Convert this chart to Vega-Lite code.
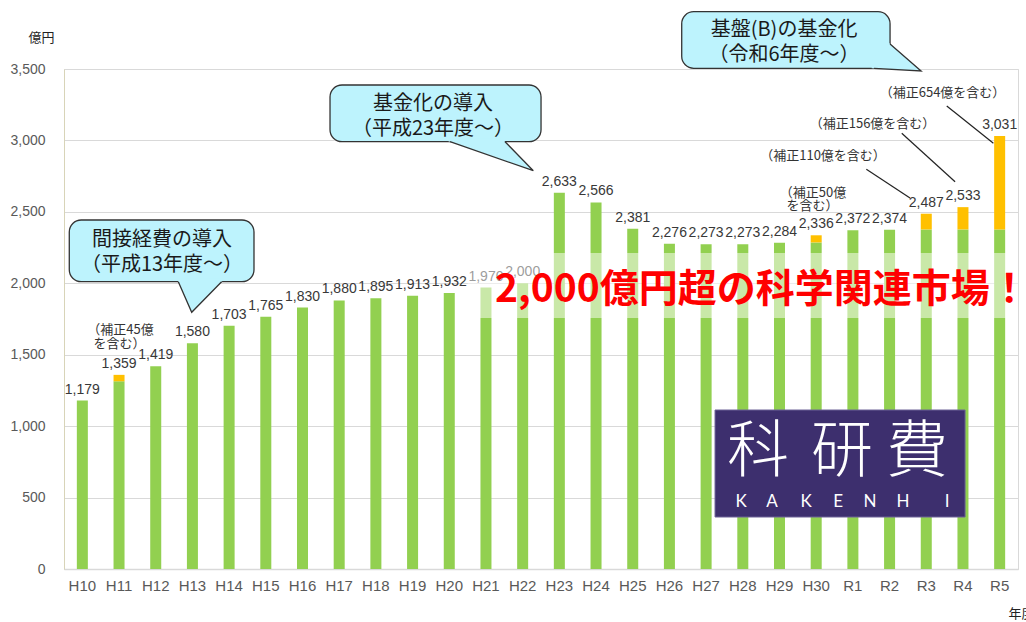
{
  "$schema": "https://vega.github.io/schema/vega-lite/v6.json",
  "width": 954,
  "height": 500,
  "autosize": "none",
  "padding": {"left": 64, "top": 69, "right": 8, "bottom": 53},
  "background": "white",
  "config": {
    "view": {"stroke": "#d9d9d9"},
    "font": "Liberation Sans"
  },
  "datasets": {
    "budget": [
      {"year": "H10", "base": 1179, "total": 1179},
      {"year": "H11", "base": 1314, "total": 1359},
      {"year": "H12", "base": 1419, "total": 1419},
      {"year": "H13", "base": 1580, "total": 1580},
      {"year": "H14", "base": 1703, "total": 1703},
      {"year": "H15", "base": 1765, "total": 1765},
      {"year": "H16", "base": 1830, "total": 1830},
      {"year": "H17", "base": 1880, "total": 1880},
      {"year": "H18", "base": 1895, "total": 1895},
      {"year": "H19", "base": 1913, "total": 1913},
      {"year": "H20", "base": 1932, "total": 1932},
      {"year": "H21", "base": 1970, "total": 1970},
      {"year": "H22", "base": 2000, "total": 2000},
      {"year": "H23", "base": 2633, "total": 2633},
      {"year": "H24", "base": 2566, "total": 2566},
      {"year": "H25", "base": 2381, "total": 2381},
      {"year": "H26", "base": 2276, "total": 2276},
      {"year": "H27", "base": 2273, "total": 2273},
      {"year": "H28", "base": 2273, "total": 2273},
      {"year": "H29", "base": 2284, "total": 2284},
      {"year": "H30", "base": 2286, "total": 2336},
      {"year": "R1", "base": 2372, "total": 2372},
      {"year": "R2", "base": 2374, "total": 2374},
      {"year": "R3", "base": 2377, "total": 2487},
      {"year": "R4", "base": 2377, "total": 2533},
      {"year": "R5", "base": 2377, "total": 3031}
    ],
    "band": [{"x": 11, "x2": 26, "y": 1757, "y2": 2212}],
    "headline": [{"label": "2,000億円超の科学関連市場！", "x": 11.747, "y": 1953}],
    "logo": [{"x": 17.743, "x2": 24.557, "y": 364, "y2": 1113}],
    "logoKanji": [
      {"t": "科", "x": 18.915, "y": 815},
      {"t": "研", "x": 21.205, "y": 815},
      {"t": "費", "x": 23.249, "y": 815}
    ],
    "logoLatin": [
      {"t": "K", "x": 18.452, "y": 471},
      {"t": "A", "x": 19.297, "y": 471},
      {"t": "K", "x": 20.223, "y": 471},
      {"t": "E", "x": 21.096, "y": 471},
      {"t": "N", "x": 21.968, "y": 471},
      {"t": "H", "x": 22.867, "y": 471},
      {"t": "I", "x": 24.067, "y": 471}
    ],
    "leaders": [
      {"x": 21.867, "y": 2798, "x2": 23.057, "y2": 2597},
      {"x": 22.832, "y": 3050, "x2": 24.285, "y2": 2711},
      {"x": 24.059, "y": 3241, "x2": 25.329, "y2": 2980}
    ],
    "notes": [
      {"t": "（補正45億", "x": 1.540, "y": 1673},
      {"t": "を含む）", "x": 1.513, "y": 1575},
      {"t": "（補正50億", "x": 20.414, "y": 2634},
      {"t": "を含む）", "x": 20.400, "y": 2541},
      {"t": "（補正110億を含む）", "x": 20.687, "y": 2893},
      {"t": "（補正156億を含む）", "x": 22.036, "y": 3115},
      {"t": "（補正654億を含む）", "x": 23.943, "y": 3332}
    ],
    "callouts": [
      {"id": "c1", "x": 0.144, "x2": 5.178, "y": 2011.1, "y2": 2443},
      {"id": "c2", "x": 7.250, "x2": 13.001, "y": 2991.1, "y2": 3388},
      {"id": "c3", "x": 16.835, "x2": 22.513, "y": 3504.9, "y2": 3901}
    ],
    "tailFill": [
      {"id": "c1", "o": 0, "x": 3.0788, "y": 2032.5},
      {"id": "c1", "o": 1, "x": 3.4805, "y": 1796.9},
      {"id": "c1", "o": 2, "x": 4.3769, "y": 2032.5},
      {"id": "c2", "o": 0, "x": 10.248, "y": 3015.6},
      {"id": "c2", "o": 1, "x": 12.791, "y": 2788.1},
      {"id": "c2", "o": 2, "x": 11.927, "y": 3015.6},
      {"id": "c3", "o": 0, "x": 22.412, "y": 3697.4},
      {"id": "c3", "o": 1, "x": 23.358, "y": 3486},
      {"id": "c3", "o": 2, "x": 22.013, "y": 3505.9},
      {"id": "c3", "o": 3, "x": 22.022, "y": 3563}
    ],
    "tailStroke": [
      {"id": "c1", "o": 0, "x": 3.1153, "y": 2011.1},
      {"id": "c1", "o": 1, "x": 3.4805, "y": 1796.9},
      {"id": "c1", "o": 2, "x": 4.2954, "y": 2011.1},
      {"id": "c2", "o": 0, "x": 10.520, "y": 2991.1},
      {"id": "c2", "o": 1, "x": 12.791, "y": 2788.1},
      {"id": "c2", "o": 2, "x": 12.020, "y": 2991.1},
      {"id": "c3", "o": 0, "x": 22.513, "y": 3675},
      {"id": "c3", "o": 1, "x": 23.358, "y": 3486},
      {"id": "c3", "o": 2, "x": 22.077, "y": 3504.9}
    ],
    "calloutText": [
      {"t": "間接経費の導入", "x": 2.671, "y": 2303},
      {"t": "（平成13年度～）", "x": 2.671, "y": 2128},
      {"t": "基金化の導入", "x": 10.057, "y": 3255},
      {"t": "（平成23年度～）", "x": 10.057, "y": 3078},
      {"t": "基盤(B)の基金化", "x": 19.624, "y": 3773},
      {"t": "（令和6年度～）", "x": 19.624, "y": 3598}
    ]
  },
  "resolve": {"scale": {"x": "independent"}},
  "layer": [
    {
      "data": {"name": "budget"},
      "mark": {"type": "bar", "color": "#92D050"},
      "encoding": {
        "x": {
          "field": "year", "type": "nominal", "sort": null,
          "scale": {"paddingInner": 0.7, "paddingOuter": 0.35},
          "axis": {
            "orient": "bottom",
            "title": "年度", "labelAngle": 0, "ticks": false, "labelPadding": 9,
            "labelFont": "Liberation Sans", "labelFontSize": 15, "labelColor": "#595959",
            "domainColor": "#d9d9d9", "domainWidth": 1.5,
            "titleFont": "Noto Sans CJK JP", "titleFontSize": 13, "titleFontWeight": "normal",
            "titleColor": "#222222", "titleX": 944, "titleY": 44,
            "titleAlign": "left", "titleBaseline": "middle"
          }
        },
        "y": {
          "field": "base", "type": "quantitative",
          "scale": {"domain": [0, 3500], "nice": false},
          "axis": {
            "orient": "left",
            "values": [0, 500, 1000, 1500, 2000, 2500, 3000, 3500],
            "labelExpr": "format(datum.value, ',.0f')",
            "grid": true, "gridColor": "#d9d9d9",
            "domainColor": "#d8d4b8", "ticks": false, "labelPadding": 19,
            "labelFont": "Liberation Sans", "labelFontSize": 14, "labelColor": "#595959",
            "title": "億円", "titleAngle": 0, "titleX": -23, "titleY": -32,
            "titleFont": "Noto Sans CJK JP", "titleFontSize": 13, "titleFontWeight": "normal",
            "titleColor": "#222222", "titleAlign": "center", "titleBaseline": "middle"
          }
        }
      }
    },
    {
      "data": {"name": "budget"},
      "mark": {"type": "bar", "color": "#FFC000"},
      "encoding": {
        "x": {"field": "year", "type": "nominal", "sort": null, "scale": {"paddingInner": 0.7, "paddingOuter": 0.35}, "axis": null},
        "y": {"field": "base", "type": "quantitative", "scale": {"domain": [0, 3500], "nice": false}},
        "y2": {"field": "total"}
      }
    },
    {
      "data": {"name": "budget"},
      "mark": {"type": "text", "baseline": "bottom", "dy": -4, "font": "Liberation Sans", "fontSize": 14, "color": "#383838"},
      "encoding": {
        "x": {"field": "year", "type": "nominal", "sort": null, "scale": {"paddingInner": 0.7, "paddingOuter": 0.35}, "axis": null},
        "y": {"field": "total", "type": "quantitative", "scale": {"domain": [0, 3500], "nice": false}},
        "text": {"field": "total", "type": "quantitative", "format": ","}
      }
    },
    {
      "data": {"name": "band"},
      "mark": {"type": "rect", "fill": "white", "opacity": 0.5},
      "encoding": {
        "x": {"field": "x", "type": "quantitative", "scale": {"domain": [0, 26], "nice": false, "zero": false}, "axis": null},
        "x2": {"field": "x2"},
        "y": {"field": "y", "type": "quantitative", "scale": {"domain": [0, 3500], "nice": false}},
        "y2": {"field": "y2"}
      }
    },
    {
      "data": {"name": "headline"},
      "mark": {"type": "text", "align": "left", "baseline": "middle", "font": "Noto Sans CJK JP", "fontSize": 39, "fontWeight": "bold", "color": "#FF0000"},
      "encoding": {
        "x": {"field": "x", "type": "quantitative", "scale": {"domain": [0, 26], "nice": false, "zero": false}, "axis": null},
        "y": {"field": "y", "type": "quantitative", "scale": {"domain": [0, 3500], "nice": false}},
        "text": {"field": "label"}
      }
    },
    {
      "data": {"name": "logo"},
      "mark": {"type": "rect", "fill": "#3d2f6e", "stroke": "#6c6396", "strokeWidth": 1},
      "encoding": {
        "x": {"field": "x", "type": "quantitative", "scale": {"domain": [0, 26], "nice": false, "zero": false}, "axis": null},
        "x2": {"field": "x2"},
        "y": {"field": "y", "type": "quantitative", "scale": {"domain": [0, 3500], "nice": false}},
        "y2": {"field": "y2"}
      }
    },
    {
      "data": {"name": "logoKanji"},
      "mark": {"type": "text", "align": "center", "baseline": "middle", "font": "Noto Sans CJK JP", "fontSize": 62, "fontWeight": 300, "color": "white"},
      "encoding": {
        "x": {"field": "x", "type": "quantitative", "scale": {"domain": [0, 26], "nice": false, "zero": false}, "axis": null},
        "y": {"field": "y", "type": "quantitative", "scale": {"domain": [0, 3500], "nice": false}},
        "text": {"field": "t"}
      }
    },
    {
      "data": {"name": "logoLatin"},
      "mark": {"type": "text", "align": "center", "baseline": "middle", "font": "Lato", "fontSize": 17, "color": "white"},
      "encoding": {
        "x": {"field": "x", "type": "quantitative", "scale": {"domain": [0, 26], "nice": false, "zero": false}, "axis": null},
        "y": {"field": "y", "type": "quantitative", "scale": {"domain": [0, 3500], "nice": false}},
        "text": {"field": "t"}
      }
    },
    {
      "data": {"name": "leaders"},
      "mark": {"type": "rule", "color": "#222222", "strokeWidth": 1.2},
      "encoding": {
        "x": {"field": "x", "type": "quantitative", "scale": {"domain": [0, 26], "nice": false, "zero": false}, "axis": null},
        "x2": {"field": "x2"},
        "y": {"field": "y", "type": "quantitative", "scale": {"domain": [0, 3500], "nice": false}},
        "y2": {"field": "y2"}
      }
    },
    {
      "data": {"name": "notes"},
      "mark": {"type": "text", "align": "center", "baseline": "middle", "font": "Noto Sans CJK JP", "fontSize": 13, "color": "#333333"},
      "encoding": {
        "x": {"field": "x", "type": "quantitative", "scale": {"domain": [0, 26], "nice": false, "zero": false}, "axis": null},
        "y": {"field": "y", "type": "quantitative", "scale": {"domain": [0, 3500], "nice": false}},
        "text": {"field": "t"}
      }
    },
    {
      "data": {"name": "callouts"},
      "mark": {"type": "rect", "fill": "#BDF3FD", "stroke": "#333333", "strokeWidth": 1.3, "cornerRadius": 12},
      "encoding": {
        "x": {"field": "x", "type": "quantitative", "scale": {"domain": [0, 26], "nice": false, "zero": false}, "axis": null},
        "x2": {"field": "x2"},
        "y": {"field": "y", "type": "quantitative", "scale": {"domain": [0, 3500], "nice": false}},
        "y2": {"field": "y2"}
      }
    },
    {
      "data": {"name": "tailFill"},
      "mark": {"type": "line", "fill": "#BDF3FD", "stroke": "#BDF3FD", "strokeWidth": 0, "interpolate": "linear-closed"},
      "encoding": {
        "x": {"field": "x", "type": "quantitative", "scale": {"domain": [0, 26], "nice": false, "zero": false}, "axis": null},
        "y": {"field": "y", "type": "quantitative", "scale": {"domain": [0, 3500], "nice": false}},
        "detail": {"field": "id"},
        "order": {"field": "o"}
      }
    },
    {
      "data": {"name": "tailStroke"},
      "mark": {"type": "line", "stroke": "#333333", "strokeWidth": 1.3},
      "encoding": {
        "x": {"field": "x", "type": "quantitative", "scale": {"domain": [0, 26], "nice": false, "zero": false}, "axis": null},
        "y": {"field": "y", "type": "quantitative", "scale": {"domain": [0, 3500], "nice": false}},
        "detail": {"field": "id"},
        "order": {"field": "o"}
      }
    },
    {
      "data": {"name": "calloutText"},
      "mark": {"type": "text", "align": "center", "baseline": "middle", "font": "Noto Sans CJK JP", "fontSize": 20, "color": "#1a1a1a"},
      "encoding": {
        "x": {"field": "x", "type": "quantitative", "scale": {"domain": [0, 26], "nice": false, "zero": false}, "axis": null},
        "y": {"field": "y", "type": "quantitative", "scale": {"domain": [0, 3500], "nice": false}},
        "text": {"field": "t"}
      }
    }
  ]
}
